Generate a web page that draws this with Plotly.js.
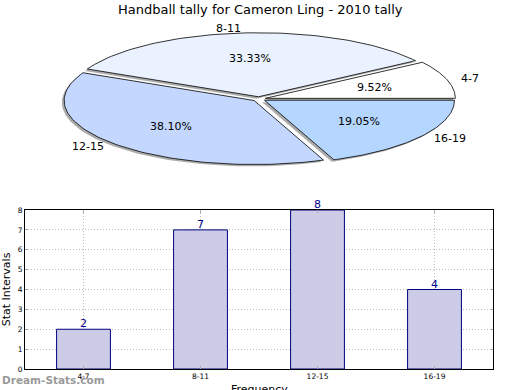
<!DOCTYPE html>
<html><head><meta charset="utf-8">
<script src="https://cdn.plot.ly/plotly-3.0.1.min.js"></script>
<style>html,body{margin:0;padding:0;background:#fff}#chart{width:520px;height:390px}</style>
</head><body><div id="chart"></div>
<script>
const categories = ["4-7", "8-11", "12-15", "16-19"];
const values = [2, 7, 8, 4];
const percentLabels = ["9.52%", "33.33%", "38.10%", "19.05%"];
const sliceColors = ["#ffffff", "#eaf2ff", "#c4d8ff", "#b4d6ff"];
const yTicks = [0, 1, 2, 3, 4, 5, 6, 7, 8];

const RY = 64 / 190;      // ellipse squash
const EXPLODE = 0.035;
const total = values.reduce((a, b) => a + b, 0);
const traces = [];
const annotations = [];
let start = 0;
const wedges = [];
values.forEach((v, i) => {
  const a0 = start, a1 = start + v / total * 2 * Math.PI;
  start = a1;
  const mid = (a0 + a1) / 2;
  const ox = EXPLODE * Math.cos(mid), oy = EXPLODE * RY * Math.sin(mid);
  const xs = [ox], ys = [oy];
  const n = 80;
  for (let k = 0; k <= n; k++) {
    const t = a0 + (a1 - a0) * k / n;
    xs.push(ox + Math.cos(t)); ys.push(oy + RY * Math.sin(t));
  }
  xs.push(ox); ys.push(oy);
  wedges.push({xs, ys, mid, ox, oy, i});
});
wedges.forEach(w => {
  traces.push({type: 'scatter', mode: 'lines', xaxis: 'x2', yaxis: 'y2',
    x: w.xs.map(x => x - 0.012), y: w.ys.map(y => y - 0.01),
    fill: 'toself', fillcolor: 'rgba(90,90,90,0.5)', line: {width: 0}, hoverinfo: 'skip', showlegend: false});
});
wedges.forEach(w => {
  traces.push({type: 'scatter', mode: 'lines', xaxis: 'x2', yaxis: 'y2',
    x: w.xs, y: w.ys, fill: 'toself', fillcolor: sliceColors[w.i],
    line: {color: '#000', width: 0.8}, hoverinfo: 'skip', showlegend: false});
  const c = Math.cos(w.mid), s = Math.sin(w.mid);
  annotations.push({xref: 'x2', yref: 'y2', x: w.ox + 0.6 * c, y: w.oy + 0.6 * RY * s,
    text: percentLabels[w.i], showarrow: false, font: {size: 11, color: '#000', family: 'DejaVu Sans'}});
  annotations.push({xref: 'x2', yref: 'y2', x: 1.1 * c, y: 1.1 * RY * s,
    text: categories[w.i], showarrow: false, xanchor: c >= 0 ? 'left' : 'right',
    font: {size: 11, color: '#000', family: 'DejaVu Sans'}});
});

traces.push({type: 'bar', x: categories, y: values, xaxis: 'x', yaxis: 'y', width: 0.46,
  marker: {color: '#ccccE6', line: {color: '#000080', width: 1}},
  hoverinfo: 'skip', showlegend: false});
categories.forEach((c, i) => {
  annotations.push({xref: 'x', yref: 'y', x: c, y: values[i], yanchor: 'bottom', yshift: -3,
    text: String(values[i]), showarrow: false,
    font: {size: 11, color: '#00008b', family: 'DejaVu Sans'}});
});

annotations.push({xref: 'paper', yref: 'paper', x: 0.5, y: 1, yanchor: 'top', yshift: 0,
  text: 'Handball tally for Cameron Ling - 2010 tally', showarrow: false,
  font: {size: 13, color: '#000', family: 'DejaVu Sans'}});
annotations.push({xref: 'paper', yref: 'paper', x: 0.5 * (25 + 493) / 520, y: 9 / 390, xanchor: 'center', yanchor: 'top',
  text: 'Frequency', showarrow: false, font: {size: 11, color: '#000', family: 'DejaVu Sans'}});
annotations.push({xref: 'paper', yref: 'paper', x: 0, y: 10 / 390, xanchor: 'left', yanchor: 'middle',
  text: '<b>Dream-Stats.com</b>', showarrow: false, font: {size: 10.5, color: '#9a9a9a', family: 'DejaVu Sans'}});

const layout = {
  width: 520, height: 390, margin: {l: 0, r: 0, t: 0, b: 0},
  paper_bgcolor: '#fff', plot_bgcolor: 'rgba(0,0,0,0)', showlegend: false,
  xaxis: {domain: [25 / 520, 493 / 520], range: [-0.5, 3.5], type: 'category',
    showgrid: true, gridcolor: '#bdbdbd', griddash: '1px,2px', gridwidth: 1,
    showline: true, linecolor: '#000', linewidth: 1, mirror: 'allticks',
    ticks: 'inside', ticklen: 3, tickcolor: '#aaa', zeroline: false,
    tickfont: {size: 7.5, family: 'DejaVu Sans', color: '#000'}},
  yaxis: {domain: [21 / 390, 180 / 390], range: [0, 8], tickvals: yTicks,
    showgrid: true, gridcolor: '#bdbdbd', griddash: '1px,2px', gridwidth: 1,
    showline: true, linecolor: '#000', linewidth: 1, mirror: 'allticks',
    ticks: 'inside', ticklen: 3, tickcolor: '#aaa', zeroline: false,
    tickfont: {size: 7.5, family: 'DejaVu Sans', color: '#000'},
    title: {text: 'Stat Intervals', font: {size: 11, family: 'DejaVu Sans', color: '#000'}, standoff: 5}},
  xaxis2: {domain: [0, 1], range: [-259 / 190, 261 / 190], visible: false, fixedrange: true},
  yaxis2: {domain: [0.5, 1], range: [-96 / 190, 99 / 190], visible: false, fixedrange: true},
  annotations
};
Plotly.newPlot('chart', traces, layout, {displayModeBar: false, staticPlot: true});
</script></body></html>
